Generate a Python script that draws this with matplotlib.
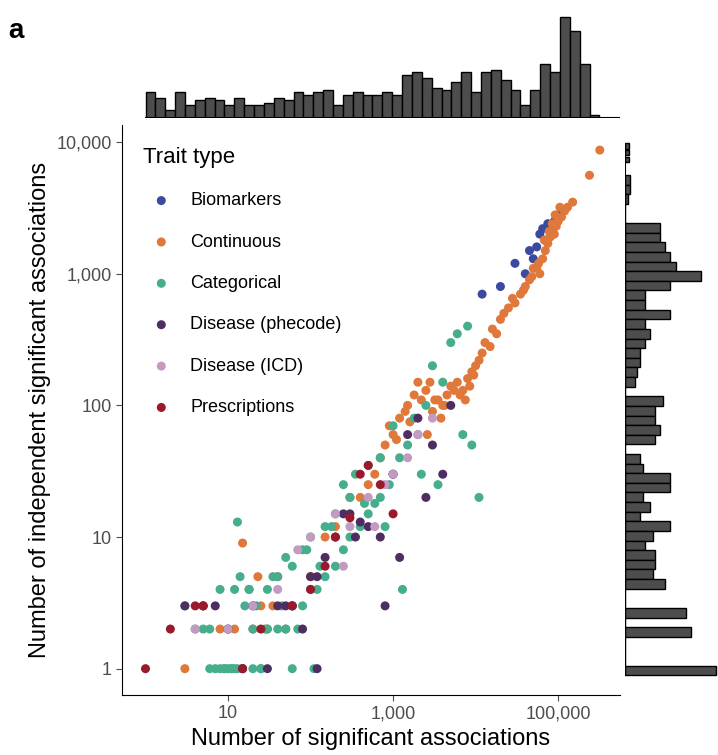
import matplotlib.pyplot as plt
import numpy as np

plt.rcParams['font.family'] = ['Liberation Sans', 'DejaVu Sans']

# scatter data (x = significant associations, y = independent significant associations)
bio_x = [12000, 20000, 30000, 45000, 60000, 70000, 80000, 90000, 100000, 55000, 40000, 65000, 85000, 75000, 50000]
bio_y = [700, 800, 1200, 1500, 2000, 1800, 2300, 2500, 2800, 1600, 1000, 2200, 2100, 2400, 1300]

cont_x = [320000, 240000, 150000, 130000, 120000, 110000, 100000, 95000, 90000, 85000, 80000, 75000, 70000, 65000, 60000, 55000,
          50000, 45000, 40000, 35000, 30000, 25000, 20000, 18000, 15000, 12000, 10000, 9000, 8000, 7000,
          6000, 5000, 4500, 4000, 3500, 3000, 2500, 2000, 1800, 1500, 1200, 1000, 900, 800, 700,
          105000, 92000, 78000, 68000, 58000, 48000, 38000, 28000, 22000, 16000, 13000, 11000,
          9500, 8500, 6500, 5500, 4200, 3800, 3200, 2800, 2200, 1600, 1100, 600, 500, 400, 300, 200,
          150, 100, 60, 40, 30, 23, 20, 15, 8, 3, 25, 35, 1400, 2600, 7500, 12, 50]
cont_y = [8700, 5600, 3500, 3200, 3000, 2700, 2500, 2300, 2000, 2400, 1900, 1700, 1500, 1300, 1000, 1100,
          1100, 900, 800, 700, 600, 550, 450, 350, 280, 250, 200, 180, 160, 130,
          150, 140, 120, 100, 110, 90, 130, 150, 120, 100, 80, 60, 70, 50, 40,
          3200, 2800, 2100, 1800, 1200, 950, 750, 650, 500, 380, 300, 220,
          170, 140, 120, 130, 100, 80, 110, 150, 110, 75, 55, 30, 25, 20, 20, 12,
          10, 5, 3, 5, 2, 5, 2, 9, 2, 1, 3, 3, 90, 60, 110, 2, 2]

cat_x = [3000, 5000, 6000, 8000, 4000, 2500, 2000, 1500, 1200, 1000, 900, 700, 600, 500, 400, 300, 250,
         200, 150, 120, 100, 80, 60, 50, 40, 30, 25, 20, 15, 12, 10, 8, 6, 5, 10, 12, 14, 16, 20, 25,
         30, 40, 50, 60, 80, 100, 150, 200, 300, 500, 700, 1000, 1800, 2200, 3500, 7000, 9000, 11000,
         6, 8, 9, 11, 13, 18, 22, 28, 35, 45, 70, 90, 130, 180, 250, 350, 450, 800, 1300,
         7, 9, 11, 13, 60, 110, 4, 3, 5, 18]
cat_y = [200, 300, 350, 400, 150, 100, 60, 50, 40, 30, 25, 20, 18, 15, 12, 10, 8,
         6, 5, 4, 4, 3, 3, 2, 2, 2, 1, 1, 1, 1, 1, 1, 1, 2, 2, 4, 5, 3, 2, 1,
         4, 5, 7, 6, 8, 10, 12, 15, 20, 35, 40, 70, 80, 30, 25, 60, 50, 20,
         2, 4, 1, 1, 13, 4, 3, 2, 5, 3, 2, 8, 6, 12, 25, 30, 18, 12, 4,
         1, 1, 1, 1, 1, 1, 2, 3, 3, 4]

phe_x = [3, 5, 7, 10, 15, 20, 30, 40, 60, 80, 100, 150, 200, 300, 400, 500, 700, 1000, 1500, 2000,
         2500, 3000, 4000, 5000, 50, 120, 250, 350, 800, 1200, 120]
phe_y = [3, 3, 3, 2, 1, 3, 1, 3, 3, 2, 5, 7, 10, 15, 13, 12, 10, 30, 60, 80,
         20, 50, 30, 100, 3, 5, 15, 10, 3, 7, 1]

icd_x = [4, 10, 20, 40, 70, 100, 200, 300, 500, 800, 1000, 1500, 2000, 3000, 250, 600]
icd_y = [2, 2, 3, 4, 8, 10, 15, 12, 20, 25, 30, 40, 60, 80, 6, 12]

rx_x = [1, 2, 4, 5, 15, 25, 60, 100, 200, 300, 400, 500, 700, 1000, 150]
rx_y = [1, 2, 3, 3, 1, 2, 3, 4, 10, 14, 30, 35, 25, 15, 6]

# marginal histogram counts
top_counts = [26, 20, 8, 26, 13, 18, 20, 18, 13, 20, 13, 13, 15, 20, 18, 26, 23, 26, 28, 13, 23, 26, 23,
              23, 26, 23, 43, 46, 40, 30, 28, 36, 46, 26, 46, 48, 38, 28, 13, 28, 53, 46, 100, 86, 53, 3]
right_counts = [5, 5, 3, 0, 0, 35, 35, 40, 45, 50, 75, 45, 20, 20, 45, 20, 25, 20, 15, 15, 12, 10, 0,
                38, 30, 30, 35, 30, 0, 15, 18, 45, 45, 18, 25, 15, 45, 28, 20, 30, 30, 28, 40,
                0, 0, 60, 0, 65, 0, 0, 0, 90]
right_top = [3.95, 3.9, 3.85]

series = [
    ('Biomarkers', bio_x, bio_y, '#3a4a9f'),
    ('Continuous', cont_x, cont_y, '#df783a'),
    ('Categorical', cat_x, cat_y, '#46ae8d'),
    ('Disease (phecode)', phe_x, phe_y, '#4e2e61'),
    ('Disease (ICD)', icd_x, icd_y, '#c39ac2'),
    ('Prescriptions', rx_x, rx_y, '#9a1a2b'),
]

fig = plt.figure(figsize=(7.18, 7.55), dpi=100)
W, H = 718, 755
ax = fig.add_axes([122 / W, 1 - 695 / H, 498 / W, 570 / H])
axt = fig.add_axes([122 / W, 1 - 118 / H, 498 / W, 103 / H])
axr = fig.add_axes([625 / W, 1 - 695 / H, 93 / W, 570 / H])

xlo, xhi = -0.285, 5.75
ylo, yhi = -0.2, 4.13
for name, xs, ys, c in series:
    ax.scatter(xs, ys, s=42, color=c, label=name, edgecolors='none', zorder=3)
ax.set_xscale('log')
ax.set_yscale('log')
ax.set_xlim(10 ** xlo, 10 ** xhi)
ax.set_ylim(10 ** ylo, 10 ** yhi)
ax.set_xticks([10, 1000, 100000])
ax.set_xticklabels(['10', '1,000', '100,000'])
ax.set_yticks([1, 10, 100, 1000, 10000])
ax.set_yticklabels(['1', '10', '100', '1,000', '10,000'])
ax.minorticks_off()
ax.tick_params(labelsize=13, colors='#4d4d4d', length=4)
for s in ['top', 'right']:
    ax.spines[s].set_visible(False)
ax.set_xlabel('Number of significant associations', fontsize=17, labelpad=4)
ax.set_ylabel('Number of independent significant associations', fontsize=17)
leg = ax.legend(title='Trait type', loc='upper left', frameon=False, fontsize=13,
                title_fontsize=16, labelspacing=1.35, handletextpad=0.6, markerscale=1.0,
                bbox_to_anchor=(0.01, 0.99))
leg._legend_box.align = 'left'

# top histogram
n = len(top_counts)
edges = np.linspace(0.0, 5.5, n + 1)
axt.bar(edges[:-1], top_counts, width=edges[1] - edges[0], align='edge',
        color='#4d4d4d', edgecolor='black', linewidth=1)
axt.set_xlim(xlo, xhi)
axt.set_ylim(0, 102)
axt.axis('off')
axt.plot([edges[0], xhi], [0, 0], color='black', lw=1.5)

# right histogram
m = len(right_counts)
redges = np.linspace(-0.05, 3.75, m + 1)[::-1]
axr.barh(redges[1:], right_counts, height=redges[0] - redges[1], align='edge',
         color='#4d4d4d', edgecolor='black', linewidth=1)
axr.barh(right_top, [4, 4, 4], height=0.04, align='edge', color='#4d4d4d', edgecolor='black', linewidth=1)
axr.set_ylim(ylo, yhi)
axr.set_xlim(0, 92)
axr.axis('off')
axr.plot([0, 0], [redges[-1], 3.97], color='black', lw=1.5)

fig.text(8 / W, 1 - 38 / H, 'a', fontsize=20, fontweight='bold')
fig.savefig('out.png', dpi=100)
